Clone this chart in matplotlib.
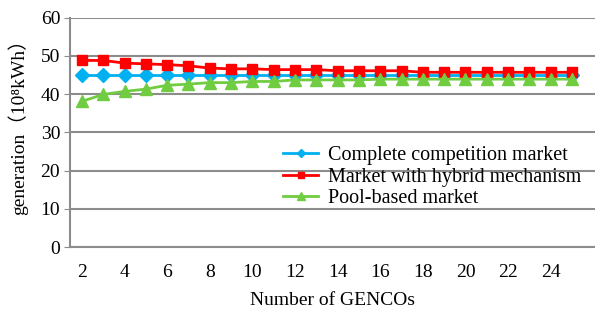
import matplotlib.pyplot as plt

plt.rcParams['font.family'] = ['Liberation Serif', 'Noto Sans CJK SC']

gencos = list(range(2, 26))
complete = [45.0] * 24
hybrid = [48.8, 48.8, 48.1, 47.9, 47.7, 47.4, 46.8, 46.6, 46.6, 46.4, 46.4, 46.4,
          46.1, 46.1, 46.1, 46.1, 45.7, 45.7, 45.7, 45.7, 45.7, 45.7, 45.7, 45.7]
pool = [38.1, 39.9, 40.7, 41.3, 42.3, 42.6, 43.0, 43.0, 43.3, 43.3, 43.7, 43.7,
        43.7, 43.7, 43.9, 43.9, 43.9, 43.9, 43.9, 43.9, 43.9, 43.9, 43.9, 43.9]
xticks = list(range(2, 25, 2))

fig = plt.figure(figsize=(5.95, 3.09), dpi=100)
ax = fig.add_axes([0.1176, 0.2006, 0.8824, 0.7424])

ax.plot(gencos, complete, '-D', color='#00b0f0', lw=2, markersize=7.5,
        label='Complete competition market')
ax.plot(gencos, hybrid, '-s', color='#ff0000', lw=2, markersize=7.5,
        label='Market with hybrid mechanism')
ax.plot(gencos, pool, '-^', color='#70cc40', lw=2, markersize=9,
        label='Pool-based market')

ax.set_xlim(1.44, 26.08)
ax.set_ylim(0, 60)
ax.set_yticks(range(0, 61, 10))
ax.set_xticks(xticks)
ax.tick_params(axis='x', length=0, pad=12, labelsize=14)
ax.tick_params(axis='y', length=4, color='#8c8c8c', labelsize=14, pad=3)
ax.yaxis.grid(True, color='#8c8c8c', lw=1.5)
ax.set_axisbelow(True)
for s in ['top', 'right']:
    ax.spines[s].set_visible(False)
for s in ['left', 'bottom']:
    ax.spines[s].set_color('#8c8c8c')
    ax.spines[s].set_linewidth(1.5)

ax.set_xlabel('Number of GENCOs', fontsize=14, labelpad=8)
ax.set_ylabel('generation（10⁸kWh）', fontsize=14)
ax.yaxis.set_label_coords(-0.079, 0.545)

ax.legend(loc='upper left', bbox_to_anchor=(0.406, 0.44), frameon=False,
          fontsize=14.5, handlelength=1.75, handletextpad=0.5, labelspacing=0.12,
          borderpad=0, borderaxespad=0, markerscale=0.6)

fig.savefig('out.png', dpi=100)
